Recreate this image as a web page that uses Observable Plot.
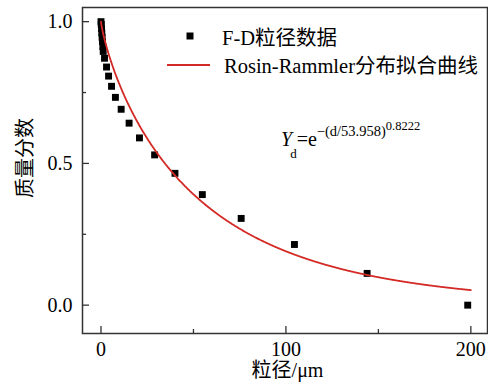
<!DOCTYPE html>
<html>
<head>
<meta charset="utf-8">
<script src="https://cdn.jsdelivr.net/npm/d3@7"></script>
<script src="https://cdn.jsdelivr.net/npm/@observablehq/plot@0.6"></script>
<style>
  html, body { margin: 0; padding: 0; background: #fff; }
</style>
</head>
<body>
<div id="chart"></div>
<script>
// Measured F-D particle size data
const sizes = [0, 0.15, 0.3, 0.45, 0.6, 0.8, 1.0, 1.2, 1.9, 3.0, 4.1, 5.7, 7.8, 10.9, 15.2, 20.8, 29.0, 40.0, 54.8, 75.8, 104.6, 143.9, 198.3];
const fractions = [1.0, 0.99, 0.975, 0.96, 0.945, 0.93, 0.912, 0.895, 0.871, 0.840, 0.808, 0.772, 0.733, 0.691, 0.642, 0.590, 0.530, 0.465, 0.390, 0.306, 0.214, 0.112, 0.0];

// Rosin-Rammler fit parameters (as printed on the chart)
const fitScale = 53.958;
const fitShape = 0.8222;
const fitRange = [0, 200];

// Ticks
const xMajor = [0, 100, 200];
const xMinor = [50, 150];
const yMajor = [0.0, 0.5, 1.0];
const yMinor = [0.25, 0.75];

const legendLabels = ["F-D粒径数据", "Rosin-Rammler分布拟合曲线"];
const xLabel = "粒径/μm";
const yLabel = "质量分数";

const points = sizes.map((d, i) => ({d, y: fractions[i]}));
const curve = d3.range(fitRange[0], fitRange[1] + 0.001, 0.25)
  .map(d => ({d, y: Math.exp(-Math.pow(d / fitScale, fitShape))}));

const W = 488, H = 384;
const mL = 82, mR = 1, mT = 7, mB = 51;
const innerW = W - mL - mR, innerH = H - mT - mB;
const FONT = "'Liberation Serif', 'Times New Roman', 'Noto Sans CJK SC', serif";
const red = "#d42a26";
const axisColor = "#333";

const chart = Plot.plot({
  width: W, height: H,
  marginLeft: mL, marginRight: mR, marginTop: mT, marginBottom: mB,
  style: {fontFamily: FONT, fontSize: "20px", color: "#000", background: "#fff"},
  x: {domain: [-10, 209], label: null},
  y: {domain: [-0.1, 1.05], label: null},
  marks: [
    Plot.axisX(xMajor, {tickSize: 0, tickPadding: 8, tickFormat: d => String(d), fontSize: 20, label: null}),
    Plot.axisY(yMajor, {tickSize: 0, tickPadding: 10, tickFormat: d3.format(".1f"), fontSize: 20, label: null}),
    Plot.ruleX(xMajor, {x: d => d, insetTop: innerH - 7, stroke: axisColor, strokeWidth: 1.3}),
    Plot.ruleX(xMinor, {x: d => d, insetTop: innerH - 4, stroke: axisColor, strokeWidth: 1.3}),
    Plot.ruleY(yMajor, {y: d => d, insetRight: innerW - 7, stroke: axisColor, strokeWidth: 1.3}),
    Plot.ruleY(yMinor, {y: d => d, insetRight: innerW - 4, stroke: axisColor, strokeWidth: 1.3}),
    Plot.dot(points, {x: "d", y: "y", symbol: "square", r: 3.9, fill: "#000", stroke: null}),
    Plot.line(curve, {x: "d", y: "y", stroke: red, strokeWidth: 1.8}),
    Plot.frame({stroke: axisColor, strokeWidth: 1.5})
  ]
});

const svg = d3.select(chart);
// axis titles
svg.append("text")
  .attr("x", mL + innerW / 2 + 3).attr("y", 377)
  .attr("text-anchor", "middle")
  .attr("font-family", FONT).attr("font-size", 20).attr("fill", "#000")
  .text(xLabel);
svg.append("text")
  .attr("transform", "translate(32,158) rotate(-90)")
  .attr("text-anchor", "middle")
  .attr("font-family", FONT).attr("font-size", 20).attr("fill", "#000")
  .text(yLabel);

// legend
const lg = svg.append("g").attr("font-family", FONT).attr("font-size", 20.5)
  .attr("fill", "#000").attr("text-anchor", "start");
lg.append("rect").attr("x", 186.5).attr("y", 32.5).attr("width", 7).attr("height", 7).attr("fill", "#000");
lg.append("text").attr("x", 222).attr("y", 45).text(legendLabels[0]);
lg.append("line").attr("x1", 167).attr("x2", 210).attr("y1", 65).attr("y2", 65)
  .attr("stroke", red).attr("stroke-width", 1.8);
lg.append("text").attr("x", 224).attr("y", 73).text(legendLabels[1]);

// formula
const ft = svg.append("text").attr("x", 281).attr("y", 146).attr("text-anchor", "start")
  .attr("font-family", FONT).attr("font-size", 20).attr("fill", "#000");
ft.append("tspan").attr("font-style", "italic").text("Y");
ft.append("tspan").attr("font-size", 13).attr("dx", -2).attr("dy", 12).text("d");
ft.append("tspan").attr("dy", -12).text("=e");
ft.append("tspan").attr("font-size", 14.5).attr("dy", -10).text("−(d/" + fitScale.toFixed(3) + ")");
ft.append("tspan").attr("font-size", 12.5).attr("dy", -6).text(String(fitShape));

document.getElementById("chart").appendChild(chart);
</script>
</body>
</html>
